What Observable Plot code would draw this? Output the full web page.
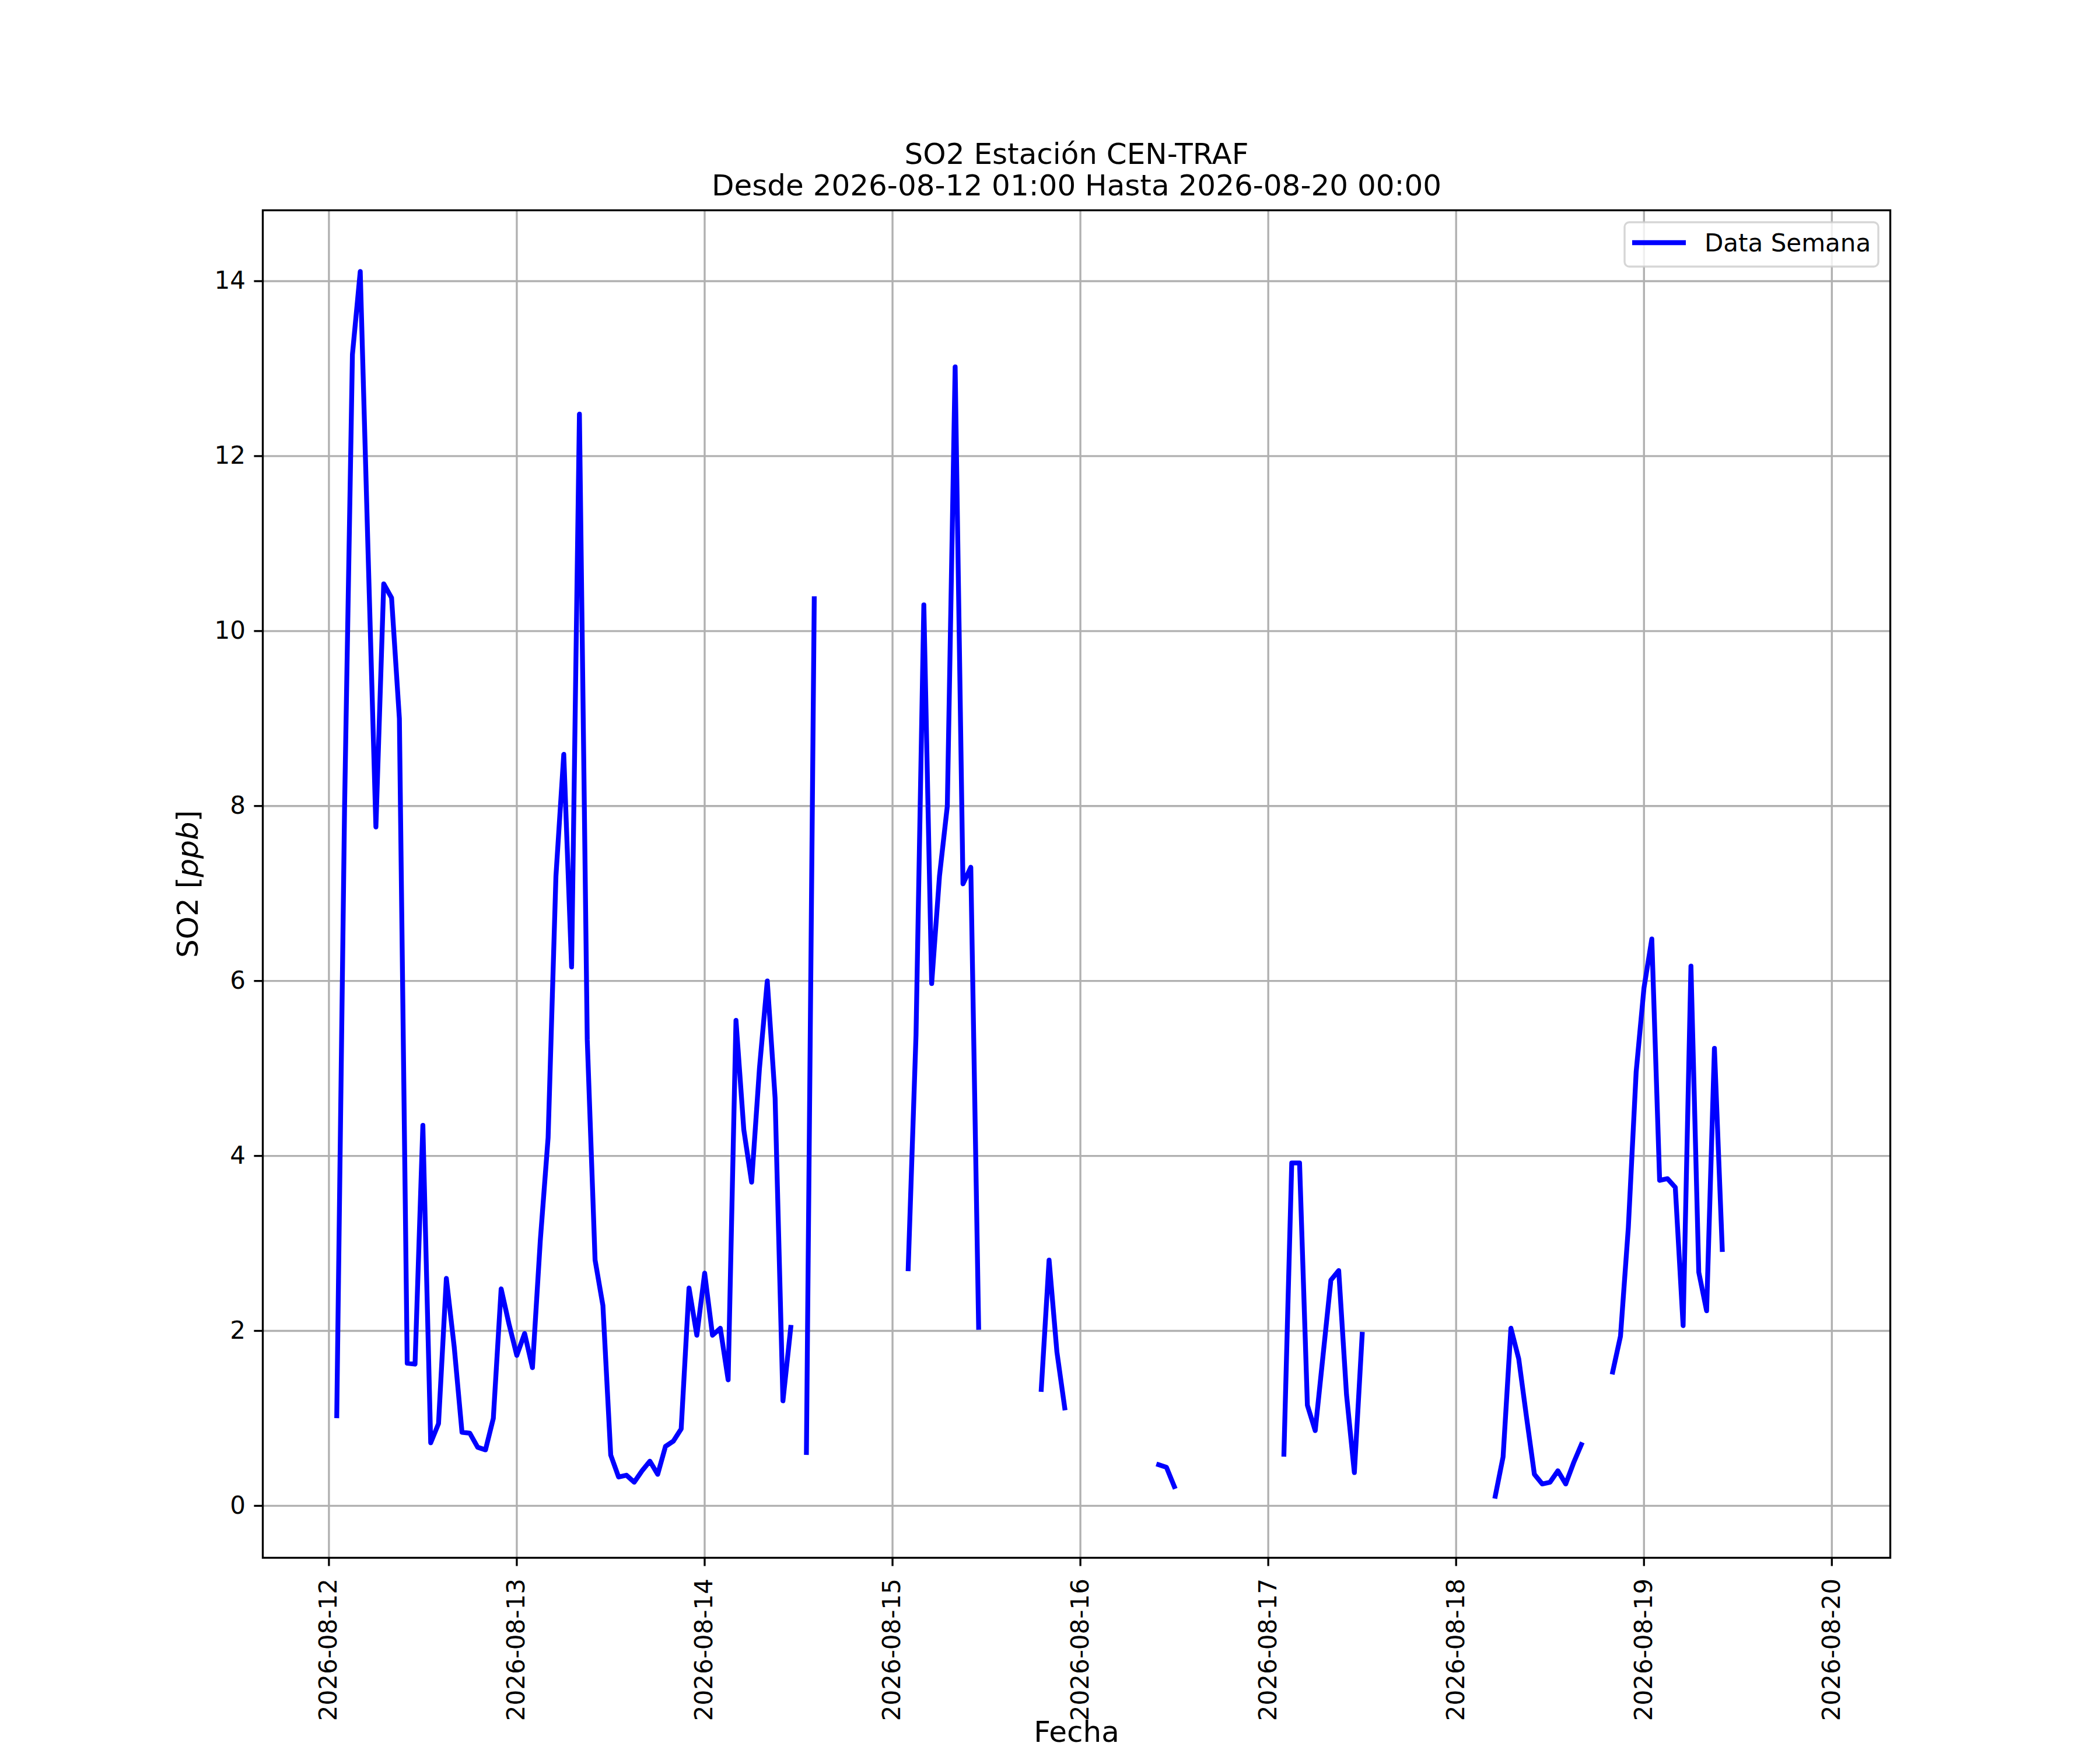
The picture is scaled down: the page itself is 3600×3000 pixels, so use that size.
<!DOCTYPE html>
<html>
<head>
<meta charset="utf-8">
<script src="https://cdn.jsdelivr.net/npm/d3@7"></script>
<script src="https://cdn.jsdelivr.net/npm/@observablehq/plot@0.6"></script>
<style>
  html, body { margin: 0; padding: 0; background: #ffffff; }
  #chart svg { display: block; }
</style>
</head>
<body>
<div id="chart"></div>
<script>
// ---- texts ----
const chartTitle = "SO2 Estación CEN-TRAF";
const chartSubtitle = "Desde 2026-08-12 01:00 Hasta 2026-08-20 00:00";
const xLabel = "Fecha";
const yLabel = "SO2 [ppb]";
const legendLabel = "Data Semana";

// ---- tick labels ----
const dayLabels = ["2026-08-12", "2026-08-13", "2026-08-14", "2026-08-15", "2026-08-16",
                   "2026-08-17", "2026-08-18", "2026-08-19", "2026-08-20"];
const yTickValues = [0, 2, 4, 6, 8, 10, 12, 14];

// ---- hourly SO2 values (ppb), index = hour of day 00..23, null = no data ----
const so2_0812 = [null, 1.03, 8.0, 13.16, 14.11, 10.9, 7.76, 10.54, 10.38, 9.0, 1.63, 1.62,
                  4.35, 0.72, 0.94, 2.6, 1.82, 0.84, 0.83, 0.67, 0.64, 1.0, 2.48, 2.08];
const so2_0813 = [1.72, 1.97, 1.58, 3.03, 4.21, 7.2, 8.59, 6.16, 12.48, 5.33, 2.81, 2.29,
                  0.58, 0.33, 0.35, 0.27, 0.40, 0.51, 0.36, 0.68, 0.74, 0.88, 2.49, 1.95];
const so2_0814 = [2.66, 1.95, 2.03, 1.44, 5.55, 4.3, 3.7, 5.0, 6.0, 4.66, 1.2, 2.04,
                  null, 0.61, 10.37, null, null, null, null, null, null, null, null, null];
const so2_0815 = [null, null, 2.71, 5.38, 10.3, 5.97, 7.2, 8.0, 13.02, 7.11, 7.3, 2.04,
                  null, null, null, null, null, null, null, 1.33, 2.81, 1.76, 1.12, null];
const so2_0816 = [null, null, null, null, null, null, null, null, null, null, 0.47, 0.44,
                  0.22, null, null, null, null, null, null, null, null, null, null, null];
const so2_0817 = [null, null, 0.59, 3.92, 3.92, 1.15, 0.86, 1.72, 2.58, 2.69, 1.27, 0.38,
                  1.96, null, null, null, null, null, null, null, null, null, null, null];
const so2_0818 = [null, null, null, null, null, 0.11, 0.56, 2.03, 1.68, 1.01, 0.36, 0.25,
                  0.27, 0.40, 0.25, 0.49, 0.70, null, null, null, 1.53, 1.94, 3.18, 4.96];
const so2_0819 = [5.92, 6.48, 3.72, 3.74, 3.64, 2.06, 6.17, 2.67, 2.23, 5.23, 2.93, null,
                  null, null, null, null, null, null, null, null, null, null, null, null];
const so2_0820 = [null];

const dailySeries = [so2_0812, so2_0813, so2_0814, so2_0815, so2_0816,
                     so2_0817, so2_0818, so2_0819, so2_0820];

// ---- build table ----
const pad2 = n => String(n).padStart(2, "0");
const rows = [];
dailySeries.forEach((vals, i) => {
  vals.forEach((v, h) => {
    rows.push({ time: new Date(`${dayLabels[i]}T${pad2(h)}:00:00Z`), so2: v });
  });
});
const dayTicks = dayLabels.map(s => new Date(`${s}T00:00:00Z`));

// ---- layout ----
const W = 3600, H = 3000;
const mL = 450, mR = 360, mT = 360, mB = 330;
const xDomain = [new Date("2026-08-11T15:33:00Z"), new Date("2026-08-20T07:28:00Z")];
const yDomain = [-0.594, 14.81];
const gridColor = "#b0b0b0";
const lineColor = "#0000ff";
const tickFont = 42, labelFont = 50;

const svg = Plot.plot({
  width: W,
  height: H,
  marginLeft: mL,
  marginRight: mR,
  marginTop: mT,
  marginBottom: mB,
  style: {
    fontFamily: "'DejaVu Sans', sans-serif",
    fontSize: `${tickFont}px`,
    background: "#ffffff",
    color: "#000000",
    overflow: "visible"
  },
  x: { type: "utc", domain: xDomain, label: null },
  y: { domain: yDomain, label: null },
  marks: [
    Plot.gridX(dayTicks, { stroke: gridColor, strokeOpacity: 1, strokeWidth: 3.33 }),
    Plot.gridY(yTickValues, { stroke: gridColor, strokeOpacity: 1, strokeWidth: 3.33 }),
    Plot.line(rows, {
      x: "time", y: "so2",
      stroke: lineColor, strokeWidth: 8.3,
      strokeLinecap: "square", strokeLinejoin: "round"
    }),
    Plot.frame({ stroke: "#000000", strokeWidth: 3.33 }),
    Plot.axisX(dayTicks, {
      tickSize: 14.6, tickPadding: 21, tickRotate: -90,
      tickFormat: d3.utcFormat("%Y-%m-%d"),
      label: null, strokeWidth: 3.33, fontSize: tickFont
    }),
    Plot.axisY(yTickValues, {
      tickSize: 14.6, tickPadding: 15,
      tickFormat: d => String(d),
      label: null, strokeWidth: 3.33, fontSize: tickFont
    }),
    Plot.text([chartTitle], { text: d => d, frameAnchor: "top", dy: -96, fontSize: labelFont, lineAnchor: "middle", textAnchor: "middle" }),
    Plot.text([chartSubtitle], { text: d => d, frameAnchor: "top", dy: -42, fontSize: labelFont, lineAnchor: "middle", textAnchor: "middle" }),
    Plot.text([xLabel], { text: d => d, frameAnchor: "bottom", dy: 299, fontSize: labelFont, lineAnchor: "middle", textAnchor: "middle" }),
    Plot.text([yLabel], { text: d => d, frameAnchor: "left", dx: -128, rotate: -90, fontSize: labelFont, lineAnchor: "middle", textAnchor: "middle" })
  ]
});

document.getElementById("chart").appendChild(svg);

// italic unit in the y label (mathtext style)
d3.select(svg).selectAll("text")
  .filter(function () { return this.textContent === yLabel; })
  .each(function () {
    const t = d3.select(this);
    t.text(null);
    t.append("tspan").text("SO2 [");
    t.append("tspan").attr("font-style", "italic").text("ppb");
    t.append("tspan").text("]");
  });

// legend (upper right inside the axes)
const frameRight = W - mR, frameTop = mT;
const lg = d3.select(svg).append("g").attr("class", "legend");
lg.append("rect")
  .attr("x", frameRight - 455).attr("y", frameTop + 21)
  .attr("width", 435).attr("height", 76)
  .attr("rx", 8).attr("ry", 8)
  .attr("fill", "#ffffff").attr("fill-opacity", 0.8)
  .attr("stroke", "#cccccc").attr("stroke-opacity", 0.8).attr("stroke-width", 3.33);
lg.append("line")
  .attr("x1", frameRight - 442).attr("x2", frameRight - 350)
  .attr("y1", frameTop + 56).attr("y2", frameTop + 56)
  .attr("stroke", lineColor).attr("stroke-width", 8.3).attr("stroke-linecap", "butt");
lg.append("text")
  .attr("x", frameRight - 318).attr("y", frameTop + 71)
  .attr("text-anchor", "start")
  .attr("font-size", tickFont).attr("fill", "#000000")
  .text(legendLabel);
</script>
</body>
</html>
